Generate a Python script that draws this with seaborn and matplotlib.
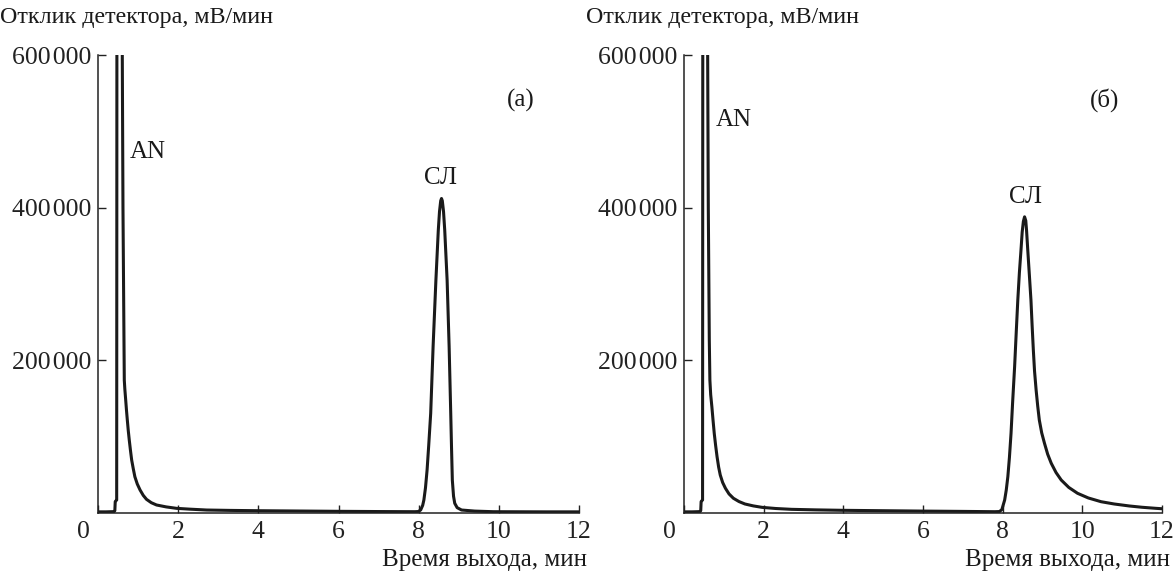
"""Хроматограммы (а) и (б): отклик детектора от времени выхода."""

import matplotlib

matplotlib.use("Agg")
import matplotlib.pyplot as plt
import matplotlib.transforms as mtransforms
import pandas as pd
import seaborn as sns
from matplotlib.ticker import FixedLocator, FuncFormatter

# --- данные (время, мин; отклик, мВ/мин) ---
time_a = [0.0, 0.20, 0.40, 0.42, 0.43, 0.455, 0.466, 0.475, 0.53, 0.606, 0.623,
          0.648, 0.656, 0.67, 0.691, 0.71, 0.731, 0.755, 0.78, 0.81, 0.84, 0.88,
          0.92, 0.98, 1.05, 1.13, 1.21, 1.33, 1.46, 1.7, 1.96, 2.3, 2.71, 3.3,
          4.0, 5.0, 6.0, 7.0, 7.90, 7.99, 8.05, 8.10, 8.13, 8.17, 8.21, 8.25,
          8.30, 8.36, 8.43, 8.49, 8.52, 8.55, 8.57, 8.59, 8.62, 8.65, 8.71, 8.76,
          8.80, 8.82, 8.84, 8.87, 8.90, 8.96, 9.07, 9.4, 9.86, 10.5, 11.2, 12.0]
signal_a = [1500, 1500, 1800, 3000, 15000, 16500, 17000, 1000000, 1500000, 600000,
            400000, 227000, 174000, 162000, 148000, 135000, 122000, 108000, 95600,
            82000, 69400, 58000, 47500, 38000, 30100, 23000, 17900, 13500, 10500,
            8000, 6100, 5000, 3900, 3400, 3000, 2600, 2200, 1900, 1700, 1900, 4000,
            10000, 17000, 33000, 56300, 88000, 130600, 218000, 305000, 370700,
            395000, 409000, 412000, 409000, 395000, 370700, 305000, 218000, 130600,
            85000, 43000, 22000, 12700, 7000, 3900, 2500, 1700, 1600, 1500, 1500]

time_b = [0.0, 0.20, 0.40, 0.42, 0.43, 0.455, 0.466, 0.475, 0.53, 0.594, 0.61,
          0.635, 0.65, 0.67, 0.70, 0.73, 0.76, 0.795, 0.83, 0.87, 0.91, 0.97, 1.04,
          1.13, 1.24, 1.38, 1.53, 1.74, 1.96, 2.3, 2.70, 3.3, 4.0, 5.0, 6.0, 7.0,
          7.80, 7.92, 7.98, 8.05, 8.09, 8.13, 8.17, 8.21, 8.25, 8.30, 8.34, 8.38,
          8.42, 8.46, 8.49, 8.52, 8.55, 8.58, 8.60, 8.63, 8.67, 8.71, 8.74, 8.77,
          8.80, 8.84, 8.88, 8.92, 8.98, 9.05, 9.13, 9.22, 9.34, 9.47, 9.66, 9.88,
          10.15, 10.47, 10.8, 11.18, 11.5, 11.85, 12.0]
signal_b = [1500, 1500, 1800, 3000, 15000, 16500, 17000, 1000000, 1500000, 600000,
            400000, 227000, 174000, 155000, 139000, 121000, 104000, 88000, 73700,
            60000, 49800, 40000, 32400, 25000, 19300, 15000, 11800, 9300, 7400,
            5900, 4800, 4100, 3500, 3000, 2500, 2100, 1700, 1900, 4500, 17000, 30000,
            47600, 73000, 104400, 145000, 191600, 236000, 279000, 315000, 344500,
            368000, 382000, 388000, 383000, 370000, 344500, 312000, 279000, 245000,
            213500, 186000, 161000, 140000, 121800, 105000, 91300, 77000, 65100,
            53000, 43200, 33500, 25800, 19700, 14800, 11800, 9200, 7500, 6100, 5600]

x_ticks = [0, 2, 4, 6, 8, 10, 12]
y_ticks = [200000, 400000, 600000]

panel_letters = ["(а)", "(б)"]
# подписи пиков: (текст, время, отклик)
peak_labels_a = [("AN", 0.80, 473000), ("СЛ", 8.55, 439000)]
peak_labels_b = [("AN", 0.80, 515000), ("СЛ", 8.57, 414000)]

Y_LABEL = "Отклик детектора, мВ/мин"
X_LABEL = "Время выхода, мин"
LINE_COLOR = "#1a1a1a"


def set_plot_style() -> None:
    sns.set_theme(style="ticks")
    plt.rcParams.update(
        {
            "font.family": ["Liberation Serif", "DejaVu Serif"],
            "font.size": 18,
            "axes.linewidth": 1.1,
            "axes.edgecolor": "#222222",
            "xtick.color": "#222222",
            "ytick.color": "#222222",
            "text.color": "#1a1a1a",
        }
    )


def _fmt(value, _pos):
    return f"{int(value):,}".replace(",", "\u200a")


def draw_panel(ax, fig, times, signal, letter, peak_labels):
    df = pd.DataFrame({"t": times, "s": signal})
    sns.lineplot(data=df, x="t", y="s", ax=ax, color=LINE_COLOR, lw=2.2,
                 sort=False, estimator=None)
    ax.set_xlim(0, 12)
    ax.set_ylim(0, 600000)
    ax.xaxis.set_major_locator(FixedLocator(x_ticks))
    ax.yaxis.set_major_locator(FixedLocator(y_ticks))
    ax.yaxis.set_major_formatter(FuncFormatter(_fmt))
    ax.tick_params(direction="in", length=5.8, width=1.0, labelsize=18.5)
    ax.tick_params(axis="x", pad=6)
    ax.tick_params(axis="y", pad=5)
    ax.set_xlabel("")
    ax.set_ylabel("")
    sns.despine(ax=ax)

    # подпись «0» сдвинута влево от оси
    first = ax.get_xticklabels()[0]
    shift = mtransforms.ScaledTranslation(-15 / fig.dpi, 0, fig.dpi_scale_trans)
    first.set_transform(first.get_transform() + shift)

    ax.annotate(Y_LABEL, xy=(0, 1), xycoords="axes fraction",
                xytext=(-98, 37), textcoords="offset pixels",
                ha="left", va="center", fontsize=17.3, annotation_clip=False)
    ax.annotate(X_LABEL, xy=(1, 0), xycoords="axes fraction",
                xytext=(8, -47), textcoords="offset pixels",
                ha="right", va="center", fontsize=18, annotation_clip=False)
    ax.text(10.55, 541000, letter, ha="center", va="center", fontsize=18)
    for text, tx, ty in peak_labels:
        ha = "left" if text == "AN" else "center"
        ax.text(tx, ty, text, ha=ha, va="center", fontsize=18)


set_plot_style()
fig = plt.figure(figsize=(11.74, 5.76), dpi=100)
ax_a = fig.add_axes([98 / 1174, 63 / 576, 481 / 1174, 458 / 576])
ax_b = fig.add_axes([684 / 1174, 63 / 576, 478 / 1174, 458 / 576])

draw_panel(ax_a, fig, time_a, signal_a, panel_letters[0], peak_labels_a)
draw_panel(ax_b, fig, time_b, signal_b, panel_letters[1], peak_labels_b)

fig.savefig("out.png", dpi=100)
